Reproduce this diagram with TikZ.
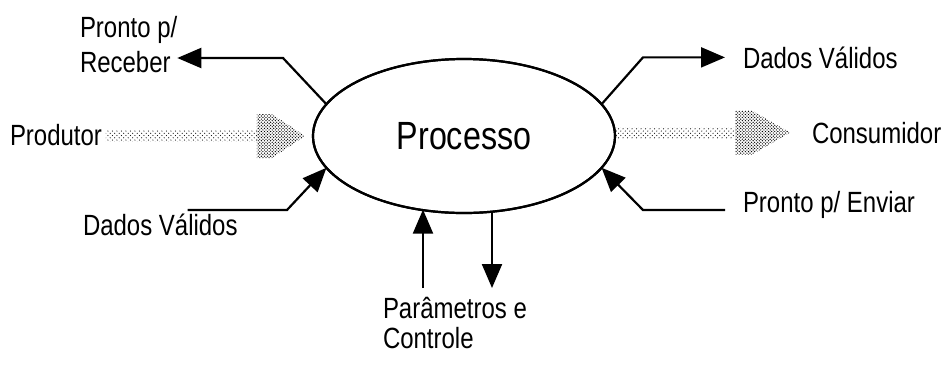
\documentclass[tikz,border=0pt]{standalone}
\usepackage{fontspec}
\setmainfont[FakeStretch=0.82]{Liberation Sans}
\usetikzlibrary{positioning,calc,shapes.geometric,arrows.meta,patterns}

% screen-like dot fills for the wide arrows
\pgfdeclarepatternformonly{sparsedots}{\pgfqpoint{-1pt}{-1pt}}{\pgfqpoint{4pt}{4pt}}{\pgfqpoint{3.2pt}{3.2pt}}{%
	\pgfpathcircle{\pgfqpoint{0pt}{0pt}}{0.42pt}
	\pgfpathcircle{\pgfqpoint{1.6pt}{1.6pt}}{0.42pt}
	\pgfusepath{fill}}
\pgfdeclarepatternformonly{densedots}{\pgfqpoint{-1pt}{-1pt}}{\pgfqpoint{3pt}{3pt}}{\pgfqpoint{2.2pt}{2.2pt}}{%
	\pgfpathcircle{\pgfqpoint{0pt}{0pt}}{0.48pt}
	\pgfpathcircle{\pgfqpoint{1.1pt}{1.1pt}}{0.48pt}
	\pgfusepath{fill}}

\begin{document}
\begin{tikzpicture}[x=0.25mm,y=-0.25mm,
				txt/.style={font=\fontsize{20.8}{25}\selectfont,inner sep=0pt,outer sep=0pt,anchor=base west,align=left},
				flow/.style={line width=0.55mm,-{Triangle[length=6mm,width=5mm]}},
				shaft/.style={pattern=sparsedots},
				head/.style={pattern=densedots}]
				\useasboundingbox (0,0) rectangle (948,365);
				% fat dotted arrows first, the ellipse is drawn over them
				\node (prod)   [txt] at (10,145)   {Produtor};
				\node (cons)   [txt] at (812,143)  {Consumidor};
				\node (proc)   [ellipse,draw,fill=white,line width=0.55mm,minimum width=75.5mm,minimum height=38.5mm,
				                inner sep=0pt,outer sep=0pt,font=\fontsize{28}{30}\selectfont] at (464,136) {Processo};
				\node (recv)   [txt,font=\fontsize{20.8}{24.8}\selectfont] at (80,72)  {Pronto p/\\Receber};
				\node (dvin)   [txt] at (83,235)   {Dados Válidos};
				\node (dvout)  [txt] at (743,68)   {Dados Válidos};
				\node (send)   [txt] at (743,212)  {Pronto p/ Enviar};
				\node (params) [txt,font=\fontsize{20.8}{21.3}\selectfont] at (383,348) {Parâmetros e\\Controle};

				\coordinate (ptip) at ([xshift=-2mm]proc.west);
				\path[shaft] ([xshift=1mm]prod.east |- ptip) ++(0,-5.5) rectangle ($(ptip)+(-48,5.5)$);
				\path[head]  (ptip) -- ++(-33,-22) -- ++(-15,0) -- ++(0,44) -- ++(15,0) -- cycle;
				\coordinate (ctip) at ([xshift=-5.5mm]cons.west);
				\path[shaft] (proc.east |- ctip) ++(0,-5.5) rectangle ($(ctip)+(-55,5.5)$);
				\path[head]  (ctip) -- ++(-38,-22) -- ++(-17,0) -- ++(0,44) -- ++(17,0) -- cycle;
				\node [ellipse,draw,line width=0.55mm,minimum width=75.5mm,minimum height=38.5mm,inner sep=0pt] at (proc) {};

				% handshake lines
				\coordinate (rcvbend) at (283,58);
				\draw[flow] (proc.167) -- (rcvbend) -- (rcvbend -| recv.east);
				\coordinate (dvstart) at ($(dvin.north east)+(-50,0)$);
				\coordinate (dvbend)  at (287,210);
				\draw[flow] (dvstart |- dvbend) -- (dvbend) -- (proc.193);
				\coordinate (dvobend) at ([xshift=-25mm]dvout.west);
				\draw[flow] (proc.13) -- (dvobend) -- ([xshift=-4.5mm]dvout.west);
				\coordinate (sndstart) at ([xshift=-4.5mm,yshift=0.5mm]send.base west);
				\coordinate (sndbend)  at ([xshift=-25mm,yshift=0.5mm]send.base west);
				\draw[flow] (sndstart) -- (sndbend) -- (proc.347);

				% parameters in and out
				\coordinate (pin)  at (423,288);
				\coordinate (pout) at (492,210);
				\draw[flow] (pin) -- (pin |- proc.239);
				\draw[flow] (pout |- proc.290) -- (492,288);
			\end{tikzpicture}
\end{document}
